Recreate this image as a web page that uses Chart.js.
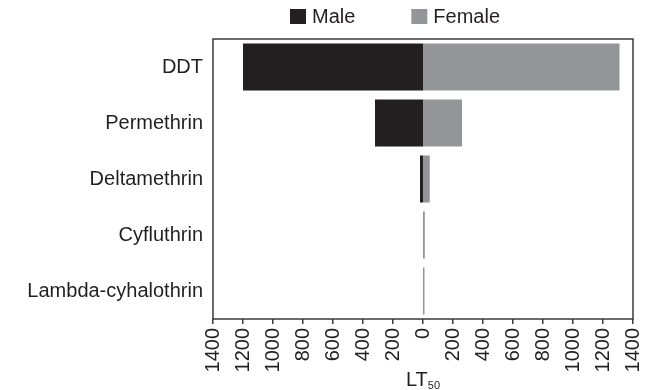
<!DOCTYPE html>
<html>
<head>
<meta charset="utf-8">
<script src="https://cdn.jsdelivr.net/npm/chart.js@4.4.0/dist/chart.umd.min.js"></script>
<style>
  html, body { margin: 0; padding: 0; background: #fff; }
  #wrap { width: 652px; height: 390px; }
</style>
</head>
<body>
<div id="wrap"><canvas id="lt50Chart" width="652" height="390"></canvas></div>
<script>
const insecticides = ['DDT', 'Permethrin', 'Deltamethrin', 'Cyfluthrin', 'Lambda-cyhalothrin'];
const maleLT50 = [1200, 320, 20, 0, 0];
const femaleLT50 = [1310, 260, 45, 12, 10];
const xTicks = [-1400, -1200, -1000, -800, -600, -400, -200, 0, 200, 400, 600, 800, 1000, 1200, 1400];

const textColor = '#231f20';
const fontFamily = '"Liberation Sans", Arial, Helvetica, sans-serif';

// box round the plot, legend on top, LT50 title with subscript
const framePlugin = {
  id: 'frame',
  afterDraw(chart) {
    const { ctx, chartArea: a } = chart;
    ctx.save();
    ctx.strokeStyle = '#3a3a3a';
    ctx.lineWidth = 1.5;
    ctx.strokeRect(a.left, a.top, a.right - a.left, a.bottom - a.top);

    // legend
    ctx.font = '20px ' + fontFamily;
    ctx.textBaseline = 'middle';
    let x = 290;
    chart.data.datasets.forEach(ds => {
      ctx.fillStyle = ds.backgroundColor;
      ctx.fillRect(x, 9, 16, 15);
      ctx.fillStyle = textColor;
      ctx.fillText(ds.label, x + 22, 17);
      x += 22 + ctx.measureText(ds.label).width + 56;
    });

    // axis title
    const cx = chart.scales.x.getPixelForValue(0);
    ctx.textBaseline = 'alphabetic';
    ctx.font = '20px ' + fontFamily;
    const w = ctx.measureText('LT').width;
    ctx.font = '11px ' + fontFamily;
    const sw = ctx.measureText('50').width;
    const start = cx - (w + sw) / 2;
    ctx.font = '20px ' + fontFamily;
    ctx.fillText('LT', start, 386);
    ctx.font = '11px ' + fontFamily;
    ctx.fillText('50', start + w, 389);
    ctx.restore();
  }
};

new Chart(document.getElementById('lt50Chart').getContext('2d'), {
  type: 'bar',
  data: {
    labels: insecticides,
    datasets: [{
      label: 'Male',
      data: maleLT50.map(v => -v),
      backgroundColor: '#231f20',
      barPercentage: 0.84,
      categoryPercentage: 1,
      inflateAmount: 0
    }, {
      label: 'Female',
      data: femaleLT50,
      backgroundColor: '#939598',
      barPercentage: 0.84,
      categoryPercentage: 1,
      inflateAmount: 0
    }]
  },
  options: {
    indexAxis: 'y',
    responsive: false,
    animation: false,
    layout: { padding: { top: 39, right: 19, left: 0, bottom: 0 } },
    plugins: {
      legend: { display: false },
      tooltip: { enabled: false }
    },
    scales: {
      x: {
        stacked: true,
        min: -1400,
        max: 1400,
        afterBuildTicks: scale => {
          scale.ticks = xTicks.map(v => ({ value: v }));
        },
        afterFit: scale => {
          scale.height = 71;
          scale.paddingLeft = 0;
          scale.paddingRight = 0;
        },
        // bars meet at zero, no gap kept for a grid line there
        afterUpdate: scale => { scale.getLineWidthForValue = () => 0; },
        border: { display: false },
        grid: {
          drawOnChartArea: false,
          drawTicks: true,
          tickLength: 5,
          color: '#3a3a3a',
          lineWidth: 1.5
        },
        ticks: {
          minRotation: 90,
          maxRotation: 90,
          padding: 4,
          color: textColor,
          font: { family: fontFamily, size: 20 },
          callback: value => Math.abs(value)
        }
      },
      y: {
        stacked: true,
        afterFit: scale => { scale.width = 213; },
        border: { display: false },
        grid: { display: false, drawTicks: false, tickLength: 0 },
        ticks: {
          padding: 10,
          color: textColor,
          font: { family: fontFamily, size: 20 }
        }
      }
    }
  },
  plugins: [framePlugin]
});
</script>
</body>
</html>
